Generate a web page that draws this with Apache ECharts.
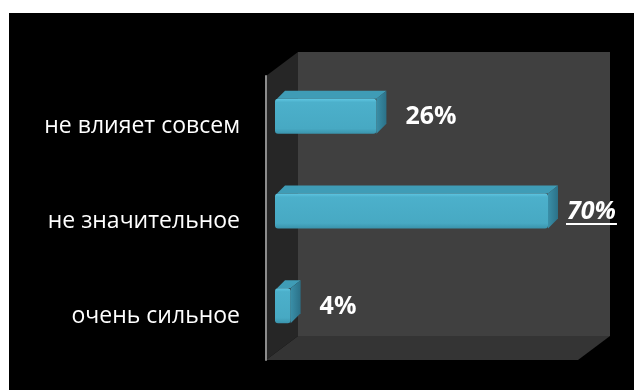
<!DOCTYPE html>
<html>
<head>
<meta charset="utf-8">
<script src="https://cdn.jsdelivr.net/npm/echarts@6/dist/echarts.min.js"></script>
<style>
  html, body { margin: 0; padding: 0; background: #ffffff; }
  #chart { width: 634px; height: 390px; }
</style>
</head>
<body>
<div id="chart"></div>
<script>
// Survey answers, top to bottom, and their shares in percent
const categories = ['не влияет совсем', 'не значительное', 'очень сильное'];
const shares = [26, 70, 4];
const highlighted = [false, true, false];

// Plot box (front plane of the 3D frame) and frame depth
const GRID = { left: 266, top: 76, width: 312, height: 284 };
const DEPTH = { x: 32, y: -24 };
const X_MAX = 80;

const chart = echarts.init(document.getElementById('chart'), null, { renderer: 'canvas' });

const L = GRID.left, T = GRID.top, R = GRID.left + GRID.width, B = GRID.top + GRID.height;
const dx = DEPTH.x, dy = DEPTH.y;

// measure text width for underline
const measureCtx = document.createElement('canvas').getContext('2d');
function textWidth(txt, font) { measureCtx.font = font; return measureCtx.measureText(txt).width; }

const LABEL_FONT_SIZE = 25;
const LABEL_FAMILY = '"Open Sans", "DejaVu Sans", sans-serif';

function renderBar(params, api) {
  const v = api.value(0);
  const c = api.value(1);
  const p0 = api.coord([0, c]);
  const p1 = api.coord([v, c]);
  const band = api.size([0, 1])[1];
  const h = band * 0.37;
  // bar sits a little behind the front plane
  const ox = 9, oy = -7;
  // own depth of the bar
  const bx = 10, by = -8;
  const x0 = p0[0] + ox, x1 = p1[0] + ox;
  const yT = p0[1] + oy - h / 2, yB = yT + h;

  const hl = highlighted[params.dataIndex];
  const txt = v + '%';
  const tx = x1 + bx + (hl ? 9 : 19);
  const ty = p0[1] + oy + 1;
  const font = (hl ? 'italic ' : '') + 'bold ' + LABEL_FONT_SIZE + 'px ' + LABEL_FAMILY;

  const children = [
    { // top face
      type: 'polygon',
      shape: { points: [[x0 + 2, yT], [x0 + bx, yT + by], [x1 + bx, yT + by], [x1, yT]] },
      style: { fill: '#3f9cb6' }
    },
    { // side face
      type: 'polygon',
      shape: { points: [[x1, yT], [x1 + bx, yT + by], [x1 + bx, yB + by - 2], [x1, yB]] },
      style: {
        fill: new echarts.graphic.LinearGradient(0, 0, 1, 0, [
          { offset: 0, color: '#3a8fa8' }, { offset: 1, color: '#2b7188' }
        ])
      }
    },
    { // front face
      type: 'rect',
      shape: { x: x0, y: yT, width: x1 - x0, height: h, r: 3 },
      style: {
        fill: new echarts.graphic.LinearGradient(0, 0, 0, 1, [
          { offset: 0, color: '#5ec6e2' },
          { offset: 0.1, color: '#4cb0cb' },
          { offset: 0.85, color: '#47a9c3' },
          { offset: 1, color: '#3a93ac' }
        ])
      }
    },
    { // value label
      type: 'text',
      style: {
        text: txt, x: tx, y: ty,
        fill: '#ffffff', font: font,
        textAlign: 'left', textVerticalAlign: 'middle'
      }
    }
  ];
  if (hl) {
    const w = textWidth(txt, font);
    children.push({
      type: 'line',
      shape: { x1: tx - 1, y1: ty + 12, x2: tx + w + 1, y2: ty + 12 },
      style: { stroke: '#ffffff', lineWidth: 2 }
    });
  }
  return { type: 'group', children: children };
}

const option = {
  backgroundColor: '#ffffff',
  animation: false,
  graphic: [
    { type: 'rect', z: -10, shape: { x: 9, y: 13, width: 625, height: 377 }, style: { fill: '#000000' } },
    { // back wall
      type: 'rect', z: -9,
      shape: { x: L + dx, y: T + dy, width: GRID.width, height: GRID.height },
      style: { fill: '#404040' }
    },
    { // side wall
      type: 'polygon', z: -9,
      shape: { points: [[L, T], [L + dx, T + dy], [L + dx, B + dy], [L, B]] },
      style: { fill: '#262626' }
    },
    { // floor
      type: 'polygon', z: -9,
      shape: { points: [[L, B], [L + dx, B + dy], [R + dx, B + dy], [R, B]] },
      style: { fill: '#343434' }
    }
  ],
  grid: { left: GRID.left, top: GRID.top, width: GRID.width, height: GRID.height, containLabel: false },
  xAxis: {
    type: 'value', min: 0, max: X_MAX, show: false
  },
  yAxis: {
    type: 'category',
    data: categories,
    inverse: true,
    axisLine: { show: true, lineStyle: { color: '#8c8c8c', width: 2 } },
    axisTick: { show: false },
    splitLine: { show: false },
    axisLabel: {
      margin: 26,
      formatter: (name) => '{c|' + name + '}',
      rich: {
        c: {
          color: '#ffffff',
          fontFamily: '"Open Sans", sans-serif',
          fontSize: 23,
          padding: [7, 0, 0, 0]
        }
      }
    }
  },
  series: [{
    type: 'custom',
    z: 10,
    renderItem: renderBar,
    encode: { x: 0, y: 1 },
    data: shares.map((v, i) => [v, i])
  }]
};

chart.setOption(option);
</script>
</body>
</html>
